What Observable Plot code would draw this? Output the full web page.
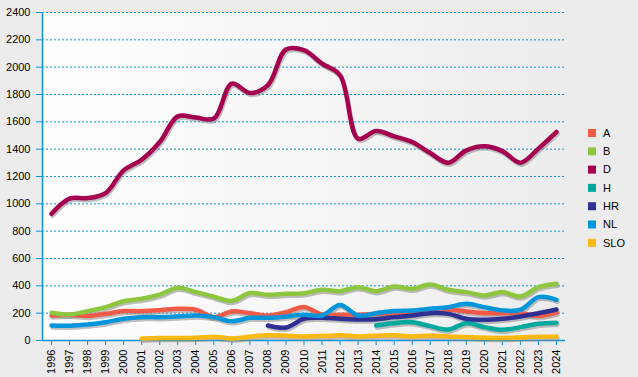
<!DOCTYPE html>
<html><head><meta charset="utf-8">
<script src="https://cdn.jsdelivr.net/npm/d3@7"></script>
<script src="https://cdn.jsdelivr.net/npm/@observablehq/plot@0.6"></script>
<style>
body{margin:0;background:#ececec;}
#chart{width:638px;height:377px;}
</style>
</head><body><div id="chart"></div>
<script>
const years = [1996,1997,1998,1999,2000,2001,2002,2003,2004,2005,2006,2007,2008,2009,2010,2011,2012,2013,2014,2015,2016,2017,2018,2019,2020,2021,2022,2023,2024];
const seriesNames = ["A","B","D","H","HR","NL","SLO"];
const seriesColors = ["#f15a46","#8dc63f","#a50050","#00a99d","#2e3192","#0096db","#fdb913"];
const yTicks = [0,200,400,600,800,1000,1200,1400,1600,1800,2000,2200,2400];

const A  = [183,188,180,195,215,215,222,232,225,172,213,200,183,207,245,190,188,188,195,200,205,218,225,213,200,200,200,180,205];
const B  = [203,190,215,244,288,305,335,386,354,320,290,347,334,342,346,371,361,390,361,395,378,410,371,354,330,354,322,390,415];
const D  = [927,1038,1042,1079,1245,1323,1452,1640,1631,1624,1880,1811,1868,2129,2124,2026,1941,1477,1533,1494,1452,1372,1301,1391,1421,1386,1301,1404,1526];
const H  = [null,null,null,null,null,null,null,null,null,null,null,null,null,null,null,null,null,null,110,127,134,105,80,127,98,78,98,122,130];
const HR = [null,null,null,null,null,null,null,null,null,null,null,null,110,95,159,166,159,154,156,171,183,200,195,159,151,159,176,200,227];
const NL = [110,108,117,134,159,171,171,176,183,171,141,166,166,175,188,183,260,183,200,215,220,232,244,268,244,220,225,317,298];
const SLO= [null,null,null,null,null,15,18,18,20,28,15,28,38,35,30,33,38,30,35,38,30,37,30,25,20,18,22,28,30];

const seriesValues = {A, B, D, H, HR, NL, SLO};
const rows = [];
for (const name of seriesNames) {
  seriesValues[name].forEach((v, i) => { if (v != null) rows.push({series: name, year: years[i], value: v}); });
}

const axisColor = "#0a93d8";
const font = "'Liberation Sans', Arial, sans-serif";

const plot = Plot.plot({
  width: 638, height: 377,
  marginLeft: 42, marginRight: 73, marginTop: 12, marginBottom: 37,
  style: {background: "transparent", fontFamily: font, fontSize: "11px", color: "#000", overflow: "visible"},
  x: {domain: [1995.5, 2024.5], axis: null, label: null},
  y: {domain: [0, 2400], axis: null, label: null},
  color: {domain: seriesNames, range: seriesColors},
  marks: [
    Plot.frame({fill: "url(#plotBg)", stroke: "none"}),
    Plot.gridY(yTicks.filter(d => d > 0), {stroke: axisColor, strokeOpacity: 1, strokeDasharray: "2,2", strokeWidth: 1}),
    Plot.axisY(yTicks, {tickSize: 6, tickPadding: 6, stroke: axisColor, fill: "#000", fontSize: 11, label: null, tickFormat: d => String(d)}),
    Plot.axisX(years, {tickSize: 5, tickPadding: 4, tickRotate: -90, stroke: axisColor, fill: "#000", fontSize: 11, label: null, tickFormat: d => String(d)}),
    Plot.ruleY([0], {stroke: axisColor, strokeWidth: 1.5}),
    Plot.ruleX([1995.5], {stroke: axisColor, strokeWidth: 1.5}),
    Plot.line(rows, {x: "year", y: "value", z: "series", stroke: "#8a8a8a", strokeOpacity: 0.55, strokeWidth: 4.5, curve: "catmull-rom", dx: 1, dy: 2}),
    Plot.line(rows, {x: "year", y: "value", z: "series", stroke: "series", strokeWidth: 4.5, curve: "catmull-rom"})
  ]
});

const svg = d3.select(plot);
const defs = svg.insert("defs", ":first-child");
const g = defs.append("linearGradient").attr("id", "plotBg").attr("x1", "0").attr("x2", "1").attr("y1", "0").attr("y2", "0");
g.append("stop").attr("offset", "0%").attr("stop-color", "#ffffff");
g.append("stop").attr("offset", "100%").attr("stop-color", "#ececec");

const legend = svg.append("g").attr("font-family", font).attr("font-size", 11).attr("text-anchor", "start");
seriesNames.forEach((name, i) => {
  const cy = 133 + i * 18.3;
  legend.append("rect").attr("x", 588).attr("y", cy - 4).attr("width", 8).attr("height", 8).attr("fill", seriesColors[i]);
  legend.append("text").attr("x", 603).attr("y", cy).attr("dy", "0.35em").attr("fill", "#000").attr("text-anchor", "start").text(name);
});

document.getElementById("chart").appendChild(plot);
</script>
</body></html>
